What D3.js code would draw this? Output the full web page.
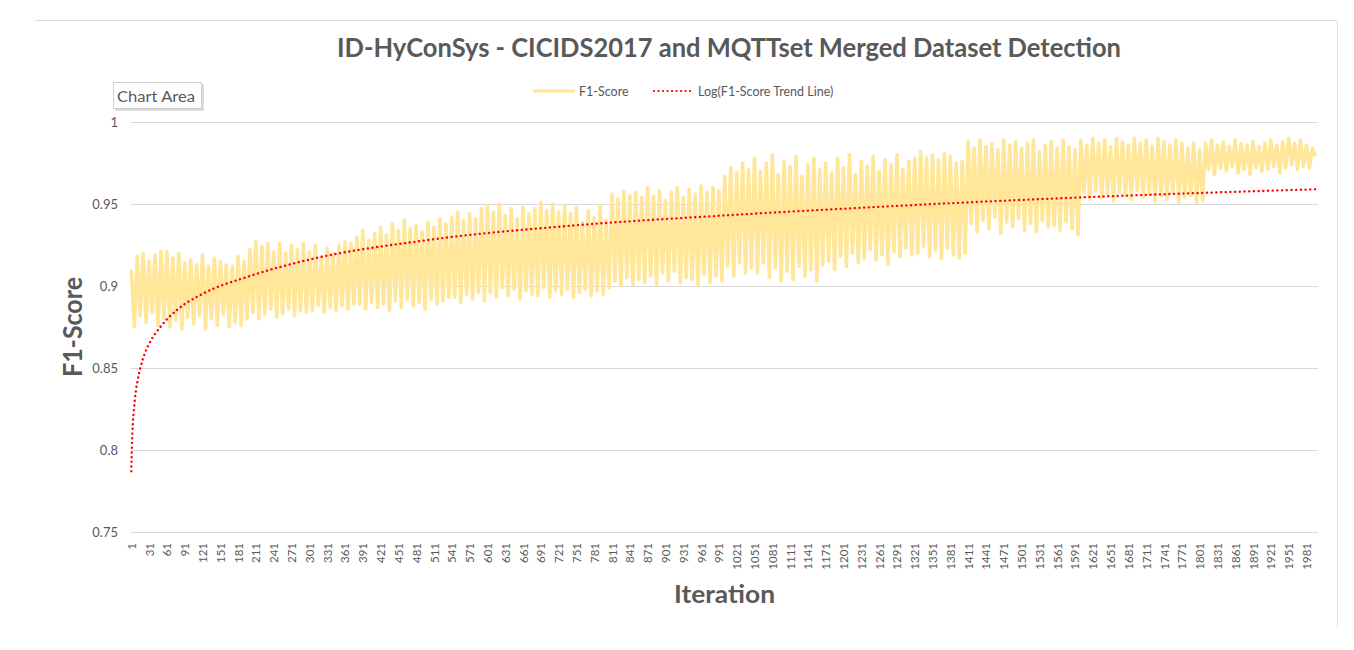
<!doctype html>
<html>
<head>
<meta charset="utf-8">
<script src="https://cdn.jsdelivr.net/npm/d3@7"></script>
<style>
  body { margin: 0; background: #fff; }
  svg { display: block; }
  text { font-family: Lato, "Open Sans", sans-serif; fill: #595959; }
</style>
</head>
<body>
<svg width="1354" height="650"></svg>
<script>
// F1-score band, read per block of 10 iterations: top and bottom of the swing
const blockHigh = [
  0.910, 0.918, 0.920, 0.915, 0.919, 0.921, 0.921, 0.917, 0.920, 0.914,
  0.916, 0.913, 0.919, 0.912, 0.917, 0.915, 0.913, 0.912, 0.918, 0.915,
  0.922, 0.927, 0.924, 0.926, 0.921, 0.926, 0.920, 0.925, 0.922, 0.926,
  0.921, 0.925, 0.918, 0.923, 0.920, 0.925, 0.927, 0.926, 0.930, 0.934,
  0.928, 0.932, 0.936, 0.931, 0.938, 0.934, 0.940, 0.935, 0.937, 0.933,
  0.939, 0.936, 0.941, 0.938, 0.942, 0.945, 0.940, 0.944, 0.941, 0.947,
  0.949, 0.945, 0.950, 0.943, 0.947, 0.941, 0.948, 0.944, 0.947, 0.951,
  0.946, 0.950, 0.945, 0.949, 0.944, 0.948, 0.939, 0.946, 0.942, 0.949,
  0.940, 0.956, 0.953, 0.958, 0.955, 0.957, 0.954, 0.960, 0.955, 0.958,
  0.952, 0.957, 0.960, 0.954, 0.959, 0.956, 0.961, 0.957, 0.960, 0.958,
  0.967, 0.972, 0.969, 0.975, 0.971, 0.978, 0.970, 0.975, 0.980, 0.968,
  0.976, 0.973, 0.979, 0.967, 0.974, 0.978, 0.971, 0.975, 0.969, 0.978,
  0.972, 0.980, 0.968, 0.976, 0.973, 0.979, 0.970, 0.977, 0.974, 0.980,
  0.971, 0.976, 0.978, 0.982, 0.978, 0.980, 0.977, 0.981, 0.979, 0.975,
  0.976, 0.988, 0.984, 0.989, 0.985, 0.987, 0.983, 0.989, 0.986, 0.988,
  0.984, 0.987, 0.989, 0.982, 0.986, 0.988, 0.984, 0.989, 0.985, 0.983,
  0.989, 0.986, 0.990, 0.987, 0.989, 0.985, 0.990, 0.988, 0.986, 0.990,
  0.987, 0.989, 0.985, 0.990, 0.988, 0.986, 0.989, 0.987, 0.984, 0.987,
  0.983, 0.987, 0.989, 0.986, 0.988, 0.985, 0.989, 0.987, 0.986, 0.988,
  0.985, 0.987, 0.989, 0.986, 0.988, 0.990, 0.987, 0.989, 0.986, 0.984
];
const blockLow = [
  0.875, 0.882, 0.878, 0.884, 0.876, 0.880, 0.875, 0.879, 0.874, 0.881,
  0.877, 0.882, 0.874, 0.880, 0.876, 0.883, 0.875, 0.878, 0.876, 0.880,
  0.884, 0.880, 0.883, 0.886, 0.881, 0.883, 0.886, 0.882, 0.885, 0.884,
  0.885, 0.888, 0.884, 0.887, 0.885, 0.888, 0.886, 0.889, 0.889, 0.886,
  0.890, 0.887, 0.889, 0.885, 0.891, 0.887, 0.892, 0.888, 0.890, 0.886,
  0.892, 0.889, 0.891, 0.893, 0.893, 0.890, 0.895, 0.892, 0.896, 0.891,
  0.896, 0.893, 0.899, 0.894, 0.898, 0.892, 0.897, 0.895, 0.894, 0.899,
  0.893, 0.897, 0.895, 0.898, 0.893, 0.896, 0.898, 0.894, 0.897, 0.895,
  0.899, 0.903, 0.900, 0.905, 0.901, 0.904, 0.902, 0.906, 0.901, 0.908,
  0.903, 0.909, 0.902, 0.905, 0.904, 0.900, 0.907, 0.902, 0.906, 0.903,
  0.912, 0.906, 0.914, 0.908, 0.911, 0.908, 0.914, 0.905, 0.911, 0.903,
  0.909, 0.904, 0.912, 0.906, 0.910, 0.903, 0.913, 0.915, 0.910, 0.918,
  0.912, 0.920, 0.914, 0.917, 0.922, 0.916, 0.919, 0.913, 0.921, 0.918,
  0.923, 0.919, 0.920, 0.924, 0.918, 0.922, 0.917, 0.923, 0.919, 0.917,
  0.920, 0.938, 0.933, 0.940, 0.935, 0.942, 0.932, 0.939, 0.936, 0.941,
  0.934, 0.938, 0.933, 0.940, 0.936, 0.937, 0.934, 0.939, 0.935, 0.931,
  0.957, 0.953, 0.958, 0.954, 0.956, 0.952, 0.957, 0.955, 0.953, 0.958,
  0.954, 0.956, 0.952, 0.955, 0.953, 0.957, 0.951, 0.954, 0.955, 0.951,
  0.952, 0.971, 0.968, 0.972, 0.970, 0.973, 0.969, 0.971, 0.968, 0.972,
  0.970, 0.971, 0.973, 0.969, 0.972, 0.974, 0.971, 0.973, 0.972, 0.979
];

// log trend line at a few iterations
const trendIter = [1, 2, 3, 5, 8, 12, 20, 30, 50, 80, 120, 200, 300, 500, 750, 1000, 1300, 1600, 2000];
const trendValue = [0.787, 0.803, 0.812, 0.823, 0.834, 0.843, 0.855, 0.864, 0.875, 0.886,
                    0.895, 0.906, 0.916, 0.928, 0.937, 0.943, 0.949, 0.954, 0.959];

const xTicks = [1, 31, 61, 91, 121, 151, 181, 211, 241, 271, 301, 331, 361, 391, 421, 451, 481,
  511, 541, 571, 601, 631, 661, 691, 721, 751, 781, 811, 841, 871, 901, 931, 961, 991, 1021,
  1051, 1081, 1111, 1141, 1171, 1201, 1231, 1261, 1291, 1321, 1351, 1381, 1411, 1441, 1471,
  1501, 1531, 1561, 1591, 1621, 1651, 1681, 1711, 1741, 1771, 1801, 1831, 1861, 1891, 1921,
  1951, 1981];
const yTicks = [0.75, 0.8, 0.85, 0.9, 0.95, 1];
const nIter = 2000;

const svg = d3.select("svg");
const plotLeft = 131, plotRight = 1318, plotTop = 122, plotBottom = 532;

const x = d3.scaleLinear().domain([0.5, nIter + 0.5]).range([plotLeft, plotRight]);
const y = d3.scaleLinear().domain([0.75, 1]).range([plotBottom, plotTop]);

// outer chart border (only top and right visible in the shot)
svg.append("line").attr("x1", 35).attr("x2", 1337.5).attr("y1", 20.5).attr("y2", 20.5)
  .attr("stroke", "#dedede");
svg.append("line").attr("x1", 1337.5).attr("x2", 1337.5).attr("y1", 20.5).attr("y2", 627)
  .attr("stroke", "#dedede");

// title
svg.append("text").attr("x", 729).attr("y", 57).attr("text-anchor", "middle")
  .attr("font-size", 26).attr("font-weight", "bold")
  .attr("textLength", 784).attr("lengthAdjust", "spacingAndGlyphs")
  .text("ID-HyConSys - CICIDS2017 and MQTTset Merged Dataset Detection");

// gridlines
svg.append("g").selectAll("line").data(yTicks).join("line")
  .attr("x1", plotLeft).attr("x2", plotRight)
  .attr("y1", d => Math.round(y(d)) + 0.5).attr("y2", d => Math.round(y(d)) + 0.5)
  .attr("stroke", "#d9d9d9");

// y axis
const yAxis = svg.append("g").attr("transform", `translate(${plotLeft},0)`)
  .call(d3.axisLeft(y).tickValues(yTicks).tickSize(0).tickPadding(13).tickFormat(d => String(+d.toFixed(2))));
yAxis.select(".domain").remove();
yAxis.selectAll("text").attr("font-size", 13).style("font-family", "Lato").attr("fill", "#595959");

// x axis, labels turned up
const xAxis = svg.append("g").attr("transform", `translate(0,${plotBottom})`)
  .call(d3.axisBottom(x).tickValues(xTicks).tickSize(0).tickFormat(d => String(d)));
xAxis.select(".domain").remove();
xAxis.selectAll("text")
  .attr("font-size", 11.5).style("font-family", "Lato").attr("fill", "#595959")
  .attr("transform", "rotate(-90)")
  .attr("text-anchor", "end")
  .attr("x", -11).attr("y", 0).attr("dy", "0.35em");

// axis titles
svg.append("text").attr("x", 724.5).attr("y", 603).attr("text-anchor", "middle")
  .attr("font-size", 25).attr("font-weight", "bold")
  .attr("textLength", 101).attr("lengthAdjust", "spacingAndGlyphs")
  .text("Iteration");
svg.append("text").attr("transform", "translate(82,327) rotate(-90)").attr("text-anchor", "middle")
  .attr("font-size", 27).attr("font-weight", "bold")
  .attr("textLength", 100).attr("lengthAdjust", "spacingAndGlyphs")
  .text("F1-Score");

// F1-score series
const f1 = [];
blockHigh.forEach((h, i) => {
  f1.push({ it: i * 10 + 1, v: h });
  f1.push({ it: i * 10 + 6, v: blockLow[i] });
});
svg.append("path").datum(f1)
  .attr("fill", "none").attr("stroke", "#ffe699").attr("stroke-width", 3.6)
  .attr("stroke-linejoin", "round")
  .attr("d", d3.line().x(d => x(d.it)).y(d => y(d.v)));

// trend
const trend = trendIter.map((t, i) => ({ it: t, v: trendValue[i] }));
svg.append("path").datum(trend)
  .attr("fill", "none").attr("stroke", "#ff0000").attr("stroke-width", 2.4)
  .attr("stroke-linecap", "round").attr("stroke-dasharray", "0.1,4.6")
  .attr("d", d3.line().curve(d3.curveMonotoneX).x(d => x(d.it)).y(d => y(d.v)));

// legend
const lg = svg.append("g");
lg.append("line").attr("x1", 533).attr("x2", 575).attr("y1", 91).attr("y2", 91)
  .attr("stroke", "#ffe699").attr("stroke-width", 3);
lg.append("text").attr("x", 579).attr("y", 95.5).attr("font-size", 12.5).text("F1-Score");
lg.append("line").attr("x1", 654).attr("x2", 693).attr("y1", 91).attr("y2", 91)
  .attr("stroke", "#ff0000").attr("stroke-width", 2.2)
  .attr("stroke-linecap", "round").attr("stroke-dasharray", "0.1,4.4");
lg.append("text").attr("x", 698).attr("y", 95.5).attr("font-size", 12.5).text("Log(F1-Score Trend Line)");

// "Chart Area" hover label
const tip = svg.append("g");
tip.append("rect").attr("x", 115).attr("y", 84).attr("width", 89).attr("height", 27)
  .attr("fill", "#c4c4c4").attr("opacity", 0.6);
tip.append("rect").attr("x", 113.5).attr("y", 82.5).attr("width", 88).attr("height", 26)
  .attr("fill", "#fff").attr("stroke", "#d0d0d0");
tip.append("text").attr("x", 117).attr("y", 101.5).attr("font-size", 15.5)
  .attr("textLength", 78).attr("lengthAdjust", "spacingAndGlyphs")
  .text("Chart Area");
</script>
</body>
</html>
